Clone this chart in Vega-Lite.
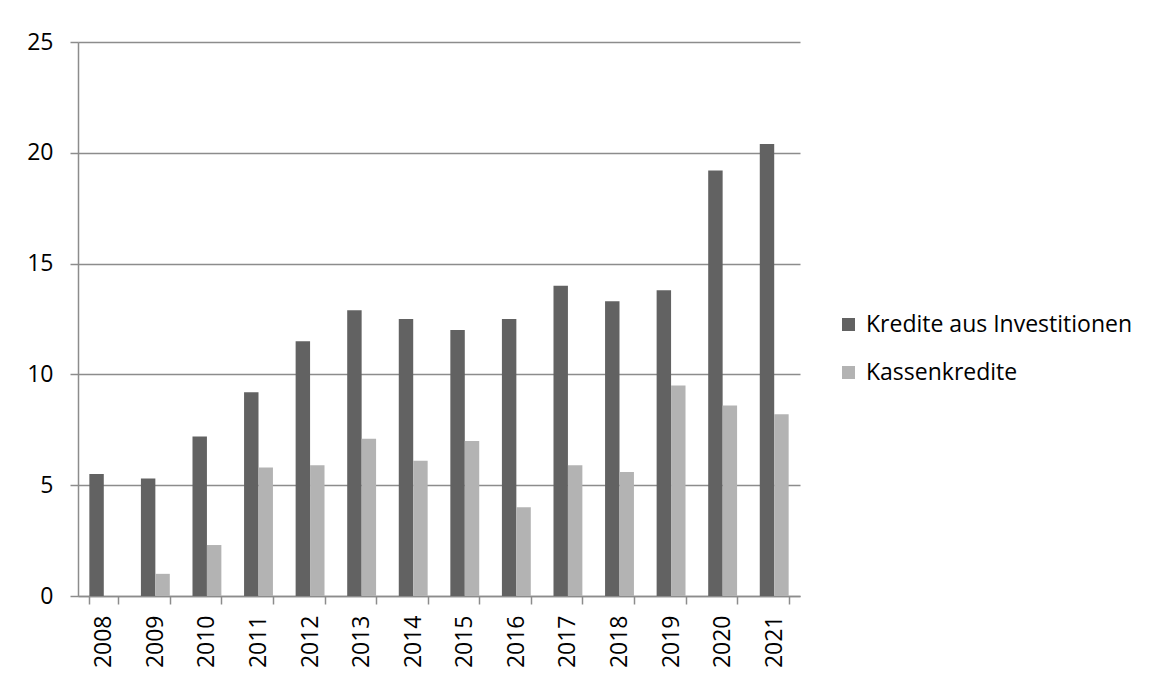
{
  "$schema": "https://vega.github.io/schema/vega-lite/v6.json",
  "autosize": "none",
  "width": 722,
  "height": 554,
  "padding": {"left": 78, "top": 42, "right": 351, "bottom": 81},
  "background": "white",
  "config": {
    "font": "Open Sans",
    "view": {"stroke": null}
  },
  "data": {
    "values": [
      {"Jahr": "2008", "Serie": "Kredite aus Investitionen", "Wert": 5.5},
      {"Jahr": "2009", "Serie": "Kredite aus Investitionen", "Wert": 5.3},
      {"Jahr": "2010", "Serie": "Kredite aus Investitionen", "Wert": 7.2},
      {"Jahr": "2011", "Serie": "Kredite aus Investitionen", "Wert": 9.2},
      {"Jahr": "2012", "Serie": "Kredite aus Investitionen", "Wert": 11.5},
      {"Jahr": "2013", "Serie": "Kredite aus Investitionen", "Wert": 12.9},
      {"Jahr": "2014", "Serie": "Kredite aus Investitionen", "Wert": 12.5},
      {"Jahr": "2015", "Serie": "Kredite aus Investitionen", "Wert": 12.0},
      {"Jahr": "2016", "Serie": "Kredite aus Investitionen", "Wert": 12.5},
      {"Jahr": "2017", "Serie": "Kredite aus Investitionen", "Wert": 14.0},
      {"Jahr": "2018", "Serie": "Kredite aus Investitionen", "Wert": 13.3},
      {"Jahr": "2019", "Serie": "Kredite aus Investitionen", "Wert": 13.8},
      {"Jahr": "2020", "Serie": "Kredite aus Investitionen", "Wert": 19.2},
      {"Jahr": "2021", "Serie": "Kredite aus Investitionen", "Wert": 20.4},
      {"Jahr": "2008", "Serie": "Kassenkredite", "Wert": 0},
      {"Jahr": "2009", "Serie": "Kassenkredite", "Wert": 1.0},
      {"Jahr": "2010", "Serie": "Kassenkredite", "Wert": 2.3},
      {"Jahr": "2011", "Serie": "Kassenkredite", "Wert": 5.8},
      {"Jahr": "2012", "Serie": "Kassenkredite", "Wert": 5.9},
      {"Jahr": "2013", "Serie": "Kassenkredite", "Wert": 7.1},
      {"Jahr": "2014", "Serie": "Kassenkredite", "Wert": 6.1},
      {"Jahr": "2015", "Serie": "Kassenkredite", "Wert": 7.0},
      {"Jahr": "2016", "Serie": "Kassenkredite", "Wert": 4.0},
      {"Jahr": "2017", "Serie": "Kassenkredite", "Wert": 5.9},
      {"Jahr": "2018", "Serie": "Kassenkredite", "Wert": 5.6},
      {"Jahr": "2019", "Serie": "Kassenkredite", "Wert": 9.5},
      {"Jahr": "2020", "Serie": "Kassenkredite", "Wert": 8.6},
      {"Jahr": "2021", "Serie": "Kassenkredite", "Wert": 8.2}
    ]
  },
  "mark": {"type": "bar", "stroke": null},
  "encoding": {
    "x": {
      "field": "Jahr",
      "type": "nominal",
      "scale": {"paddingInner": 0.44, "paddingOuter": 0.22},
      "axis": {
        "title": null,
        "tickBand": "extent",
        "labelAngle": -90,
        "labelAlign": "right",
        "labelBaseline": "middle",
        "labelFontSize": 23,
        "labelColor": "#000000",
        "labelPadding": 11,
        "tickSize": 8,
        "tickColor": "#8c8c8c",
        "tickWidth": 1.5,
        "domainColor": "#8c8c8c",
        "domainWidth": 1.5,
        "grid": false
      }
    },
    "xOffset": {
      "field": "Serie",
      "type": "nominal",
      "sort": ["Kredite aus Investitionen", "Kassenkredite"],
      "scale": {"paddingInner": 0, "paddingOuter": 0}
    },
    "y": {
      "field": "Wert",
      "type": "quantitative",
      "scale": {"domain": [0, 25]},
      "axis": {
        "title": null,
        "values": [0, 5, 10, 15, 20, 25],
        "labelFontSize": 23,
        "labelColor": "#000000",
        "labelPadding": 17,
        "tickSize": 8,
        "tickColor": "#8c8c8c",
        "tickWidth": 1.5,
        "domainColor": "#8c8c8c",
        "domainWidth": 1.5,
        "gridColor": "#8c8c8c",
        "gridWidth": 1.5
      }
    },
    "color": {
      "field": "Serie",
      "type": "nominal",
      "sort": ["Kredite aus Investitionen", "Kassenkredite"],
      "scale": {"domain": ["Kredite aus Investitionen", "Kassenkredite"], "range": ["#626262", "#b3b3b3"]},
      "legend": {
        "title": null,
        "orient": "none",
        "legendX": 759,
        "legendY": 271,
        "symbolType": "square",
        "symbolSize": 169,
        "symbolStrokeWidth": 0,
        "labelFontSize": 23,
        "labelColor": "#000000",
        "labelOffset": 6,
        "labelLimit": 400,
        "rowPadding": 24
      }
    }
  }
}
